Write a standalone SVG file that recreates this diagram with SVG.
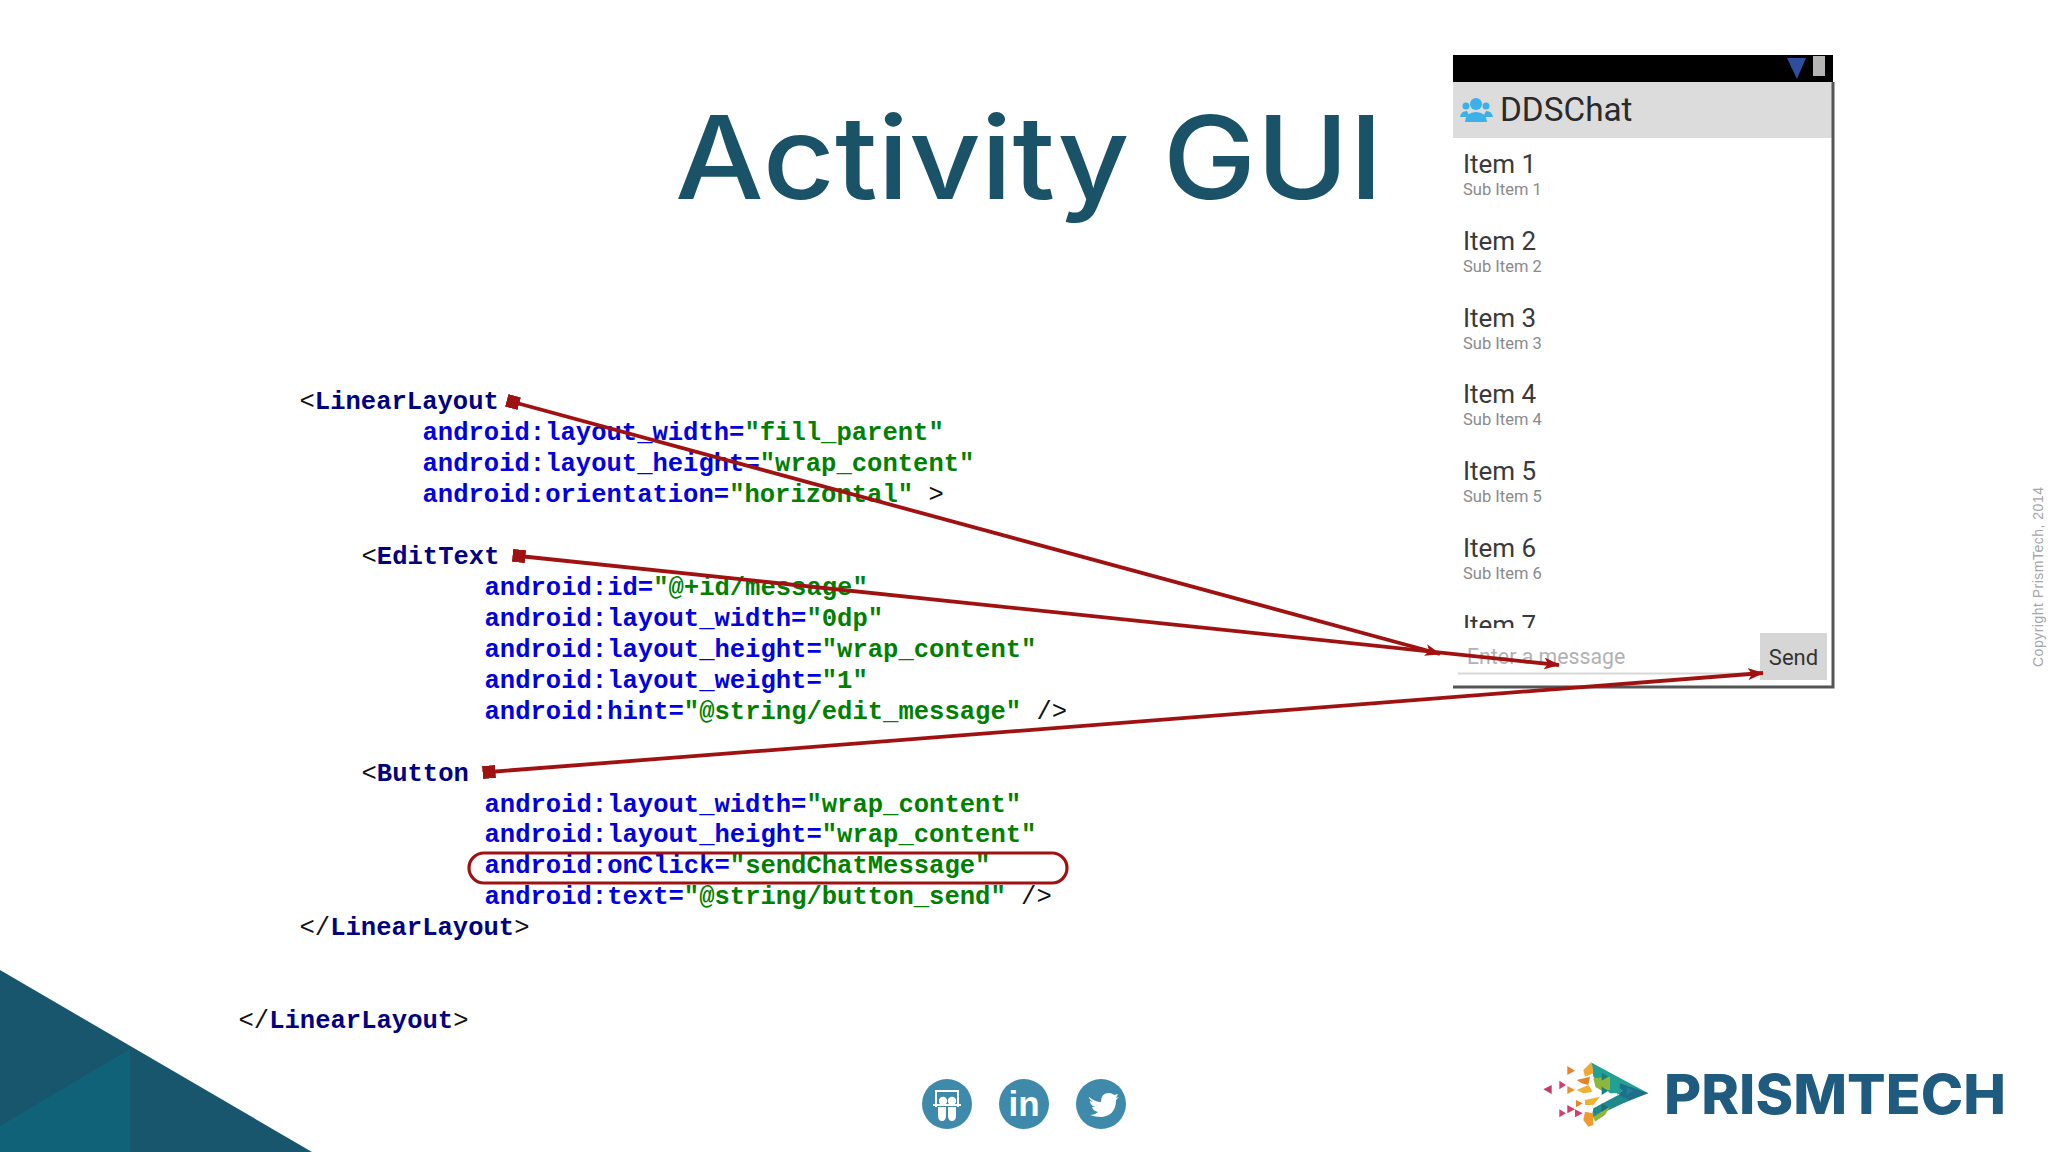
<svg xmlns="http://www.w3.org/2000/svg" width="2048" height="1152" viewBox="0 0 2048 1152">
<defs>
<style>
text{white-space:pre}
.c{font-family:"Liberation Mono",monospace;font-size:25.55px;font-weight:700}
.p{font-weight:400;fill:#111}
.t{fill:#000080}
.a{fill:#0000e0}
.v{fill:#008000}
.r{font-family:Roboto,"Liberation Sans",sans-serif}
.i{font-size:26px;fill:#3a3a3a}
.s{font-size:16.5px;fill:#8a8a8a}
.ln{fill:none;stroke:#a01212;stroke-width:3.8;marker-start:url(#sq);marker-end:url(#ah)}
.ic{fill:#3f8aab}
</style>
<marker id="ah" markerUnits="userSpaceOnUse" viewBox="0 0 16 12" markerWidth="16" markerHeight="12" refX="15" refY="6" orient="auto"><path d="M0 0L16 6L0 12L4 6Z" fill="#a01212"/></marker>
<marker id="sq" markerUnits="userSpaceOnUse" viewBox="0 0 12 12" markerWidth="13" markerHeight="13" refX="6" refY="6" orient="auto"><rect width="12" height="12" fill="#a01212"/></marker>
<clipPath id="listclip"><rect x="1453" y="140" width="378" height="488"/></clipPath>
</defs>
<rect width="2048" height="1152" fill="#fff"/>
<g id="corner">
<polygon points="0,970 312,1152 0,1152" fill="#18566e"/>
<polygon points="130,1049 130,1152 0,1152 0,1126" fill="#0f6278"/>
</g>
<text id="title" x="675" y="199" font-family="Inter,'Open Sans',sans-serif" font-size="115" font-weight="500" fill="#1a5268" textLength="708" lengthAdjust="spacingAndGlyphs">Activity GUI</text>
<g id="code" class="c">
<text x="299.5" y="409"><tspan class="p">&lt;</tspan><tspan class="t">LinearLayout</tspan></text>
<text x="422.5" y="440"><tspan class="a">android:layout_width=</tspan><tspan class="v">"fill_parent"</tspan></text>
<text x="422.5" y="471"><tspan class="a">android:layout_height=</tspan><tspan class="v">"wrap_content"</tspan></text>
<text x="422.5" y="502"><tspan class="a">android:orientation=</tspan><tspan class="v">"horizontal"</tspan><tspan class="p"> &gt;</tspan></text>
<text x="361.5" y="564"><tspan class="p">&lt;</tspan><tspan class="t">EditText</tspan></text>
<text x="484.5" y="595"><tspan class="a">android:id=</tspan><tspan class="v">"@+id/message"</tspan></text>
<text x="484.5" y="626"><tspan class="a">android:layout_width=</tspan><tspan class="v">"0dp"</tspan></text>
<text x="484.5" y="657"><tspan class="a">android:layout_height=</tspan><tspan class="v">"wrap_content"</tspan></text>
<text x="484.5" y="687.5"><tspan class="a">android:layout_weight=</tspan><tspan class="v">"1"</tspan></text>
<text x="484.5" y="718.5"><tspan class="a">android:hint=</tspan><tspan class="v">"@string/edit_message"</tspan><tspan class="p"> /&gt;</tspan></text>
<text x="361.5" y="780.5"><tspan class="p">&lt;</tspan><tspan class="t">Button</tspan></text>
<text x="484.5" y="811.5"><tspan class="a">android:layout_width=</tspan><tspan class="v">"wrap_content"</tspan></text>
<text x="484.5" y="842"><tspan class="a">android:layout_height=</tspan><tspan class="v">"wrap_content"</tspan></text>
<text x="484.5" y="873"><tspan class="a">android:onClick=</tspan><tspan class="v">"sendChatMessage"</tspan></text>
<text x="484.5" y="904"><tspan class="a">android:text=</tspan><tspan class="v">"@string/button_send"</tspan><tspan class="p"> /&gt;</tspan></text>
<text x="299.5" y="935"><tspan class="p">&lt;/</tspan><tspan class="t">LinearLayout</tspan><tspan class="p">&gt;</tspan></text>
<text x="238.5" y="1028"><tspan class="p">&lt;/</tspan><tspan class="t">LinearLayout</tspan><tspan class="p">&gt;</tspan></text>
</g>
<g id="phone">
<rect x="1453" y="55" width="380" height="632" fill="#fff"/>
<rect x="1453" y="55" width="380" height="27" fill="#000"/>
<polygon points="1787,58 1806,58 1797,79" fill="#2f4f9e"/>
<rect x="1813" y="56" width="12" height="20" fill="#b5b5b5"/>
<rect x="1453" y="82" width="380" height="56" fill="#dcdcdc"/>
<g id="app-icon" fill="#3cb0e8">
<circle cx="1476" cy="104" r="6"/><path d="M1465 122q1-10 11-10t11 10z"/>
<circle cx="1466" cy="106" r="3.5"/><circle cx="1486" cy="106" r="3.5"/>
<path d="M1460 117q1-6 7-6l3 6z"/><path d="M1493 117q-1-6-7-6l-3 6z"/>
</g>
<text class="r" x="1500" y="121" font-size="33.3" fill="#2a2a2a">DDSChat</text>
<g clip-path="url(#listclip)">
<text class="r i" x="1463" y="173">Item 1</text><text class="r s" x="1463" y="195">Sub Item 1</text>
<text class="r i" x="1463" y="250">Item 2</text><text class="r s" x="1463" y="272">Sub Item 2</text>
<text class="r i" x="1463" y="327">Item 3</text><text class="r s" x="1463" y="349">Sub Item 3</text>
<text class="r i" x="1463" y="403">Item 4</text><text class="r s" x="1463" y="425">Sub Item 4</text>
<text class="r i" x="1463" y="480">Item 5</text><text class="r s" x="1463" y="502">Sub Item 5</text>
<text class="r i" x="1463" y="557">Item 6</text><text class="r s" x="1463" y="579">Sub Item 6</text>
<text class="r i" x="1463" y="634">Item 7</text>
</g>
<text class="r" x="1467" y="664" font-size="21.3" fill="#b2b2b2">Enter a message</text>
<line x1="1458" y1="673.5" x2="1760" y2="673.5" stroke="#d8d8d8" stroke-width="2"/>
<rect x="1760" y="633" width="67" height="47" fill="#d6d6d6"/>
<text class="r" x="1793.5" y="665" font-size="22" fill="#333" text-anchor="middle">Send</text>
<path d="M1833 82V687H1453" fill="none" stroke="#555" stroke-width="3"/>
</g>
<g id="connectors">
<path class="ln" d="M513 402L1440 654"/>
<path class="ln" d="M519 556L1559 665"/>
<path class="ln" d="M489 772L1763 673"/>
<rect x="469" y="853" width="598" height="30" rx="15" fill="none" stroke="#a01212" stroke-width="3.2"/>
</g>
<text id="copyright" transform="translate(2043,667) rotate(-90)" font-family="'Liberation Sans',sans-serif" font-size="14" fill="#a5a5a5" textLength="180">Copyright PrismTech, 2014</text>
<g id="social">
<g id="slideshare"><circle class="ic" cx="947" cy="1104" r="25"/>
<path d="M936 1107V1091h22v16" fill="none" stroke="#fff" stroke-width="2"/>
<path d="M933 1105h28" stroke="#fff" stroke-width="2"/>
<circle cx="943" cy="1101" r="4.2" fill="#fff"/><circle cx="952" cy="1101" r="4.2" fill="#fff"/>
<path d="M938 1107h8v8q0 6-4 6t-4-6zM948 1107h8v8q0 6-4 6t-4-6z" fill="#fff"/></g>
<g id="linkedin"><circle class="ic" cx="1024" cy="1104" r="25"/>
<text x="1024" y="1116" font-family="'Liberation Sans',sans-serif" font-size="35" font-weight="700" fill="#fff" text-anchor="middle">in</text></g>
<g id="twitter"><circle class="ic" cx="1101" cy="1104" r="25"/>
<path d="M1089 1097q6 5 12 5q0-9 8-9q3 0 5 2l4-1-2 4 3-1-3 3q0 15-14 17q-7 0-12-2q5 0 8-3q-5-1-6-5h3q-5-2-5-6l3 1q-5-4-4-5z" fill="#fff"/></g>
</g>
<g id="logo">
<g transform="translate(1530,1050) scale(.3333)">
<polygon points="185,38 355,130 240,130 190,80" fill="#22a094"/>
<polygon points="270,100 355,130 265,165" fill="#1f6f8b"/>
<polygon points="190,175 265,135 300,150 185,205" fill="#1e8a8a"/>
<polygon points="190,85 240,80 240,120 200,125" fill="#8fb63c"/>
<polygon points="160,60 185,35 190,70 165,80" fill="#f0a830"/>
<polygon points="140,90 180,80 175,105 155,100" fill="#e8822a"/>
<polygon points="140,120 175,105 190,125 160,130" fill="#f0b030"/>
<polygon points="185,105 230,130 185,152" fill="#fff"/>
<polygon points="165,150 210,140 190,165 165,165" fill="#f0b030"/>
<polygon points="190,200 240,170 225,195 195,215" fill="#8fb63c"/>
<polygon points="165,185 190,190 190,225 175,230 160,210" fill="#ef9a2e"/>
<polygon points="215,68 235,80 215,92" fill="#1a7f7f"/>
<polygon points="215,110 235,122 215,135" fill="#1a7f7f"/>
<polygon points="262,110 280,122 262,135" fill="#22a094"/>
<polygon points="290,110 310,122 290,135" fill="#1f7f9f"/>
<polygon points="215,160 235,172 215,185" fill="#1a6f7f"/>
<polygon points="112,48 135,62 112,75" fill="#e8822a"/>
<polygon points="88,92 108,105 88,118" fill="#d43d6e"/>
<polygon points="65,105 40,118 65,132" fill="#c43a6a"/>
<polygon points="112,108 135,120 112,132" fill="#e8922a"/>
<polygon points="138,150 158,160 138,172" fill="#e8822a"/>
<polygon points="112,165 135,178 112,190" fill="#d43d6e"/>
<polygon points="88,178 108,190 88,202" fill="#d43d6e"/>
<polygon points="135,178 158,190 135,202" fill="#d43d6e"/>
</g>
<text x="1664" y="1114" font-family="Inter,'Open Sans',sans-serif" font-size="55" font-weight="800" fill="#1f5a7f" textLength="342" lengthAdjust="spacingAndGlyphs">PRISMTECH</text>
</g>
</svg>
